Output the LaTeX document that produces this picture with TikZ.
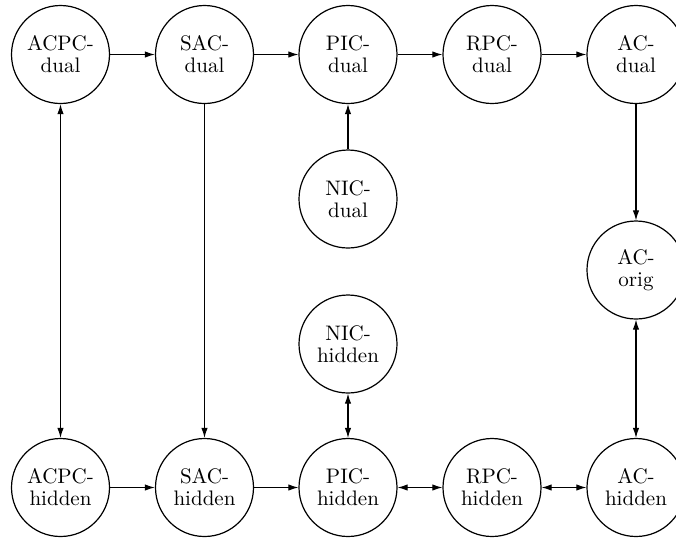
\documentclass[tikz,border=0pt]{standalone}
\usetikzlibrary{arrows.meta}
\begin{document}
\begin{tikzpicture}[x=0.5pt,y=-0.5pt,
  state/.style={circle,draw,line width=0.6pt,minimum size=49pt,inner sep=0pt,
    align=center,font=\fontsize{10.5}{11}\selectfont},
  link/.style={line width=0.55pt,-{Latex[length=5pt,width=3.2pt]}},
  both/.style={line width=0.55pt,{Latex[length=5pt,width=3.2pt]}-{Latex[length=5pt,width=3.2pt]}}]
\useasboundingbox (0,0) rectangle (676,538);
\clip (0,0) rectangle (676,538);
% top row: dual models
\node[state] (acpcd) at (60.5,54.5)  {ACPC-\\dual};
\node[state] (sacd)  at (204.5,54.5) {SAC-\\dual};
\node[state] (picd)  at (348,54.5)   {PIC-\\dual};
\node[state] (rpcd)  at (492,54.5)   {RPC-\\dual};
\node[state] (acd)   at (636,54.5)   {AC-\\dual};
% middle nodes
\node[state] (nicd)  at (348,199)    {NIC-\\dual};
\node[state] (aco)   at (636,270)    {AC-\\orig};
\node[state] (nich)  at (348,344)    {NIC-\\hidden};
% bottom row: hidden models
\node[state] (acpch) at (60.5,487.5)  {ACPC-\\hidden};
\node[state] (sach)  at (204.5,487.5) {SAC-\\hidden};
\node[state] (pich)  at (348,487.5)   {PIC-\\hidden};
\node[state] (rpch)  at (492,487.5)   {RPC-\\hidden};
\node[state] (ach)   at (636,487.5)   {AC-\\hidden};
% top row chain
\draw[link] (acpcd) -- (sacd);
\draw[link] (sacd) -- (picd);
\draw[link] (picd) -- (rpcd);
\draw[link] (rpcd) -- (acd);
\draw[link] (nicd) -- (picd);
\draw[link] (acd) -- (aco);
% vertical connections
\draw[both] (acpcd) -- (acpch);
\draw[link] (sacd) -- (sach);
\draw[both] (aco) -- (ach);
\draw[both] (nich) -- (pich);
% bottom row chain
\draw[link] (acpch) -- (sach);
\draw[link] (sach) -- (pich);
\draw[both] (pich) -- (rpch);
\draw[both] (rpch) -- (ach);
\end{tikzpicture}
\end{document}
